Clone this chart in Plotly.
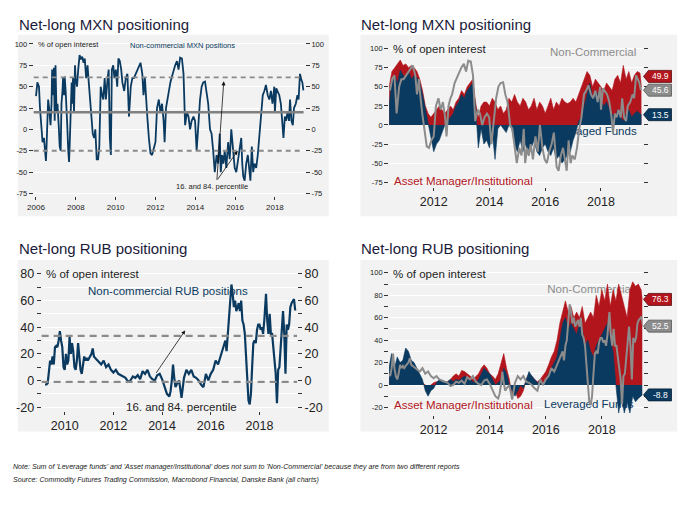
import plotly.graph_objects as go

W, H = 693, 512
NAVY = "#0b3a60"
RED = "#b3151d"
GRAY = "#8c8c8c"
PANEL = "#f2f2f2"
FONT = "Liberation Sans"
TXT = "#222222"

# ---------------- DATA ----------------
# Net-long MXN, non-commercial, % of open interest
mxn_nc_dates = [2006.00, 2006.07, 2006.12, 2006.15, 2006.20, 2006.28, 2006.33, 2006.40, 2006.45, 2006.50, 2006.53, 2006.58, 2006.61, 2006.66, 2006.73, 2006.78, 2006.81, 2006.86, 2006.90, 2006.94, 2006.98,
                2007.03, 2007.08, 2007.14, 2007.19, 2007.24, 2007.28, 2007.33, 2007.36, 2007.41, 2007.44, 2007.49, 2007.52, 2007.57, 2007.62, 2007.66, 2007.69, 2007.74, 2007.79, 2007.82, 2007.86, 2007.91, 2007.96, 2007.99,
                2008.06, 2008.12, 2008.19, 2008.25, 2008.32, 2008.39, 2008.45, 2008.52, 2008.59, 2008.65, 2008.72, 2008.78, 2008.85, 2008.92, 2008.98,
                2009.05, 2009.12, 2009.18, 2009.25, 2009.32, 2009.38, 2009.45, 2009.51, 2009.60, 2009.65, 2009.71, 2009.76, 2009.81, 2009.88, 2009.94,
                2010.01, 2010.08, 2010.14, 2010.21, 2010.28, 2010.34, 2010.43, 2010.51, 2010.59, 2010.67, 2010.76, 2010.84, 2010.92,
                2011.01, 2011.09, 2011.17, 2011.25, 2011.34, 2011.40, 2011.47, 2011.50, 2011.59, 2011.67, 2011.75, 2011.83, 2011.92,
                2012.00, 2012.08, 2012.17, 2012.25, 2012.33, 2012.41, 2012.46, 2012.53, 2012.60, 2012.66, 2012.75, 2012.83, 2012.91, 2012.99,
                2013.08, 2013.16, 2013.24, 2013.33, 2013.41, 2013.49, 2013.58, 2013.66, 2013.74, 2013.82, 2013.91, 2013.99,
                2014.07, 2014.16, 2014.24, 2014.32, 2014.40, 2014.49, 2014.57, 2014.65, 2014.74, 2014.82, 2014.90, 2014.98,
                2015.07, 2015.15, 2015.23, 2015.28, 2015.35, 2015.41, 2015.48, 2015.56, 2015.65, 2015.73, 2015.81, 2015.90, 2015.98,
                2016.06, 2016.14, 2016.23, 2016.31, 2016.36, 2016.41, 2016.48, 2016.56, 2016.64, 2016.72, 2016.77, 2016.84, 2016.91, 2016.97,
                2017.06, 2017.14, 2017.22, 2017.30, 2017.39, 2017.47, 2017.55, 2017.64, 2017.72, 2017.80, 2017.88, 2017.97,
                2018.00, 2018.07, 2018.13, 2018.22, 2018.30, 2018.38, 2018.43, 2018.50, 2018.56, 2018.63, 2018.71, 2018.76, 2018.83, 2018.90, 2018.96,
                2019.05, 2019.13, 2019.19, 2019.26, 2019.33, 2019.38, 2019.43]
mxn_nc = [39, 55, 52, 50, 25, -5, -15, -10, -30, -37, -20, 10, 35, 25, 5, 30, 70, 40, 72, 10, 75,
          20, 30, 5, -20, -25, 30, 45, 60, 40, 62, 45, 20, 5, -25, -38, -20, 15, 55, 30, 60, 20, 75, 60,
          50, 70, 87, 82, 85, 78, 83, 60, 75, 55, 30, 15, -5, -10, 0,
          -35, -35, -20, 50, 40, 35, 60, 35, 60, 70, -10, -30, 70, 75, 60,
          70, 50, 83, 80, 70, 55, 45, 60, 65, 15, 50, 60, 60,
          65, 70, 75, 78, 65, 40, 60, 45, 15, -10, -28, -30, -20,
          -15, 25, 35, 20, 30, 10, -15, 25, 35, 40, 55, 62, 70, 75,
          80, 70, 84, 83, 65, 5, 20, 15, 0, 10, 15, 10,
          -25, 10, 35, 50, 55, 56, 40, 30, 0, -5, -25, -50,
          -30, -40, -5, -50, -30, -40, -25, -45, -15, -35, 0, -30, -45,
          -50, -35, -25, -10, -40, -55, -60, -40, -30, -50, -60, -20, -50, -40,
          -45, -30, -5, 10, 40, 45, 52, 40, 35, 45, 30, 50,
          20, 48, 45, 40, 30, 10, -10, 15, 10, 20, 10, 35, 10, 5, 25,
          30, 40, 35, 65, 58, 55, 45.6]
mxn_mean, mxn_p16, mxn_p84 = 20, -25, 61

# TFF report dates (decimal years) for the right-hand charts
tff_dates = [round(2010.4 + 0.1 * i, 2) for i in range(91)] + [2019.45]
mxn_lev = [25, 60, 65, 55, 72, 65,
           62, 70, 60, 65, 62, 55, 40, 20, 0, -20,
           -35, -25, -20, -10, 0, 5, 10, 15, 25, 30,
           40, 35, 45, 50, 55, 25, -30, -5, -25, -20,
           -30, -10, -45, -5, 0, -5, -10, 0, -5, -25,
           -35, -20, -35, -25, -40, -30, -20, -35, -40, -30,
           -25, -35, -40, -30, -45, -40, -50, -45, -40, -35,
           -20, -10, 5, 10, 25, 40, 55, 35, 45, 40,
           30, 25, 30, 20, 15, 10, 20, 10, 5, 15,
           20, 10, 15, 18, 15, 13.5]
mxn_am = [50, 70, 75, 80, 85, 78,
          80, 75, 78, 75, 70, 60, 45, 25, 15, 10,
          15, 20, 25, 20, 15, 20, 25, 20, 30, 35,
          45, 40, 50, 55, 60, 30, 10, 25, 30, 30,
          25, 35, 30, 20, 25, 15, 20, 35, 30, 40,
          30, 25, 35, 30, 20, 25, 35, 20, 30, 25,
          15, 25, 35, 20, 30, 25, 35, 30, 28, 30,
          35, 30, 40, 50, 60, 70, 65, 50, 60, 55,
          50, 45, 55, 50, 45, 60, 65, 55, 78, 60,
          70, 55, 65, 70, 68, 49.9]

# Net-long RUB, non-commercial, % of open interest
rub_nc_dates = [2009.19, 2009.25, 2009.30, 2009.35, 2009.40, 2009.45, 2009.50, 2009.55, 2009.60, 2009.65, 2009.70, 2009.75, 2009.80, 2009.85, 2009.90, 2009.95,
                2010.00, 2010.05, 2010.10, 2010.15, 2010.20, 2010.25, 2010.30, 2010.35, 2010.40, 2010.45, 2010.50, 2010.55, 2010.60, 2010.65, 2010.70, 2010.75, 2010.80, 2010.85, 2010.90, 2010.95,
                2011.00, 2011.10, 2011.15, 2011.20, 2011.30, 2011.40, 2011.50, 2011.60, 2011.70, 2011.80, 2011.90,
                2012.00, 2012.10, 2012.20, 2012.30, 2012.40, 2012.50, 2012.60, 2012.70, 2012.80, 2012.90,
                2013.00, 2013.10, 2013.20, 2013.30, 2013.40, 2013.50, 2013.60, 2013.70, 2013.80, 2013.90,
                2014.00, 2014.10, 2014.20, 2014.30, 2014.35, 2014.40, 2014.45, 2014.50, 2014.55, 2014.60, 2014.70, 2014.80, 2014.85, 2014.90,
                2015.00, 2015.10, 2015.20, 2015.30, 2015.40, 2015.50, 2015.60, 2015.70, 2015.80, 2015.90,
                2016.00, 2016.10, 2016.20, 2016.30, 2016.40, 2016.50, 2016.60, 2016.65, 2016.70, 2016.75, 2016.80, 2016.85, 2016.90, 2016.95,
                2017.00, 2017.05, 2017.10, 2017.15, 2017.20, 2017.25, 2017.30, 2017.35, 2017.40, 2017.45, 2017.50, 2017.55, 2017.60, 2017.65, 2017.70, 2017.75, 2017.80, 2017.85, 2017.90, 2017.95,
                2018.00, 2018.05, 2018.10, 2018.15, 2018.20, 2018.27, 2018.32, 2018.37, 2018.42, 2018.47, 2018.52, 2018.57, 2018.62, 2018.67, 2018.72, 2018.77, 2018.82, 2018.87, 2018.92, 2018.97,
                2019.02, 2019.07, 2019.12, 2019.17, 2019.22, 2019.27, 2019.32, 2019.37, 2019.42, 2019.47]
rub_nc = [-3, -3, -2, 10, 15, 12, 18, 12, 25, 26, 25, 30, 37, 30, 25, 10,
          8, 20, 12, 15, 33, 20, 28, 22, 10, 8, 15, 28, 15, 8, 5, 10, 18, 15, 17, 15,
          17, 20, 24, 18, 16, 14, 12, 15, 10, 12, 8,
          6, 8, 5, 4, 3, 2, -1, 0, 3, 2,
          4, 1, 7, 5, 8, 3, 1, 0, 4, 5,
          1, -5, -10, -12, -8, 0, 12, 2, -5, -3, 0, -13, -5, 2,
          8, 5, 8, 3, 2, 0, -3, -5, 5, 0,
          5, 8, 15, 12, 18, 25, 30, 22, 35, 40, 55, 72, 65, 55,
          60, 52, 55, 58, 52, 60, 45, 42, 35, 20, 5, -15, -18, -10, 10, 28, 30, 28, 38, 42,
          42, 38, 40, 35, 45, 65, 45, 35, 50, 35, 35, 25, 15, 5, -17, 8, 10, 25, 40, 52,
          35, 5, 42, 38, 42, 55, 58, 60, 61, 52.5]
rub_p16, rub_p84 = -1, 33.5

rub_lev = [15, 28, 15, 25, 20, 22,
           33, 30, 22, 20, 15, 10, 5, -5, -10, -5,
           -3, 2, 5, 3, 2, 3, 5, 3, 5, 4,
           6, 8, 6, 5, 3, 2, 5, 10, 15, 12,
           10, 5, 0, 2, 5, 15, 10, 0, -5, -10,
           -5, 0, -3, 5, 12, 8, 5, 2, 3, 0,
           5, 10, 15, 20, 25, 40, 55, 60, 50, 55,
           50, 45, 55, 50, 35, 40, 30, 25, 35, 40,
           45, 50, 55, 40, 30, 0, -25, -10, -25, -15,
           -25, -10, -15, -12, -10, -8.8]
rub_am = [5, 8, 5, 8, 6, 5,
          8, 6, 5, 5, 4, 3, 2, 0, -2, 0,
          2, 3, 3, 2, 2, 3, 5, 8, 10, 8,
          13, 12, 10, 8, 5, 8, 10, 15, 18, 15,
          10, 8, 5, 10, 20, 28, 15, 5, -10, -5,
          -12, -10, -5, 5, 10, 8, 5, 3, 5, 8,
          12, 18, 25, 30, 40, 55, 65, 75, 65, 70,
          60, 65, 60, 70, 55, 60, 65, 60, 80, 70,
          85, 75, 90, 70, 85, 75, 90, 80, 70, 60,
          85, 92, 88, 90, 85, 76.3]

year_ticks = list(range(2006, 2020, 2))
mxn_yticks = [-75, -50, -25, 0, 25, 50, 75, 100]
rub_left_yticks = list(range(-20, 81, 10))
rub_right_yticks = list(range(-20, 101, 10))

# ---------------- helpers ----------------
def px(x):
    return x / W

def py(y):
    return 1 - y / H

def since(dates, vals, start):
    pairs = [(d, v) for d, v in zip(dates, vals) if d >= start]
    return [p[0] for p in pairs], [p[1] for p in pairs]

fig = go.Figure()

# ---- top-left ----
fig.add_trace(go.Scatter(x=mxn_nc_dates, y=mxn_nc, mode="lines",
                         line=dict(color=NAVY, width=1.8), xaxis="x", yaxis="y",
                         showlegend=False, hoverinfo="skip"))

# ---- top-right ----
fig.add_trace(go.Scatter(x=[2019.28], y=[-9.5], mode="text", text=["Leveraged Funds"],
                         textposition="middle left", textfont=dict(family=FONT, size=11.5, color=NAVY),
                         xaxis="x2", yaxis="y2", showlegend=False, hoverinfo="skip", cliponaxis=False))
fig.add_trace(go.Scatter(x=tff_dates, y=mxn_am, mode="lines", fill="tozeroy", fillcolor=RED,
                         line=dict(color=RED, width=0.6), xaxis="x2", yaxis="y2", showlegend=False, hoverinfo="skip"))
fig.add_trace(go.Scatter(x=tff_dates, y=mxn_lev, mode="lines", fill="tozeroy", fillcolor=NAVY,
                         line=dict(color=NAVY, width=0.6), xaxis="x2", yaxis="y2", showlegend=False, hoverinfo="skip"))
d2, v2 = since(mxn_nc_dates, mxn_nc, 2010.4)
fig.add_trace(go.Scatter(x=d2, y=v2, mode="lines", line=dict(color=GRAY, width=2),
                         xaxis="x2", yaxis="y2", showlegend=False, hoverinfo="skip"))

# ---- bottom-left ----
fig.add_trace(go.Scatter(x=rub_nc_dates, y=rub_nc, mode="lines",
                         line=dict(color=NAVY, width=2.2), xaxis="x3", yaxis="y3",
                         showlegend=False, hoverinfo="skip"))

# ---- bottom-right ----
fig.add_trace(go.Scatter(x=[2019.13, 2019.13], y=[85, -17.7], mode="text",
                         text=["Non-Commercial", "Leveraged Funds"], textposition="middle left",
                         textfont=dict(family=FONT, size=11.5, color=[GRAY, NAVY]),
                         xaxis="x4", yaxis="y4", showlegend=False, hoverinfo="skip", cliponaxis=False))
fig.add_trace(go.Scatter(x=tff_dates, y=rub_am, mode="lines", fill="tozeroy", fillcolor=RED,
                         line=dict(color=RED, width=0.6), xaxis="x4", yaxis="y4", showlegend=False, hoverinfo="skip"))
fig.add_trace(go.Scatter(x=tff_dates, y=rub_lev, mode="lines", fill="tozeroy", fillcolor=NAVY,
                         line=dict(color=NAVY, width=0.6), xaxis="x4", yaxis="y4", showlegend=False, hoverinfo="skip"))
d4, v4 = since(rub_nc_dates, rub_nc, 2010.4)
fig.add_trace(go.Scatter(x=d4, y=v4, mode="lines", line=dict(color=GRAY, width=2),
                         xaxis="x4", yaxis="y4", showlegend=False, hoverinfo="skip"))

# ---------------- axes ----------------
def xax(dom, rng, size, anchor):
    return dict(domain=dom, range=rng, anchor=anchor, tickvals=year_ticks, ticktext=[str(t) for t in year_ticks],
                ticks="outside", ticklen=3, tickcolor="#333", tickwidth=1,
                tickfont=dict(family=FONT, size=size, color=TXT),
                showgrid=False, zeroline=False, showline=False, fixedrange=True)

def yax(dom, rng, vals, texts, size, anchor, grid=True):
    return dict(domain=dom, range=rng, anchor=anchor, tickvals=vals, ticktext=texts,
                ticks="outside", ticklen=4, tickcolor="#333", tickwidth=1,
                tickfont=dict(family=FONT, size=size, color=TXT),
                showgrid=grid, gridcolor="white", gridwidth=1, zeroline=False, showline=False, fixedrange=True)

def lab(vals, step):
    return [str(v) if v % step == 0 else "" for v in vals]

tl_x = [px(27), px(301)]
tl_y = [py(198), py(40)]
tr_x = [px(386), px(642)]
tr_y = [py(188), py(45)]
bl_x = [px(35), px(293)]
bl_y = [py(414), py(268)]
br_x = [px(386), px(642)]
br_y = [py(418), py(268)]

rng1 = [-78.5, 105]
rng2 = [-80.6, 105.2]
rng3 = [-22.7, 85.95]
rng4 = [-26.5, 106.2]

mxn_lab = [str(v) for v in mxn_yticks]
layout = dict(
    width=W, height=H, margin=dict(l=0, r=0, t=0, b=0),
    paper_bgcolor="white", plot_bgcolor="rgba(0,0,0,0)",
    font=dict(family=FONT, color=TXT),
    xaxis=xax(tl_x, [2005.886, 2019.51], 8, "y"),
    yaxis=yax(tl_y, rng1, mxn_yticks, mxn_lab, 7.5, "x"),
    xaxis2=xax(tr_x, [2010.40, 2019.49], 12.5, "y2"),
    yaxis2=yax(tr_y, rng2, mxn_yticks, mxn_lab, 7.5, "x2"),
    xaxis3=xax(bl_x, [2009.052, 2019.545], 12.5, "y3"),
    yaxis3=yax(bl_y, rng3, rub_left_yticks, lab(rub_left_yticks, 20), 12.5, "x3"),
    xaxis4=xax(br_x, [2010.41, 2019.45], 12.5, "y4"),
    yaxis4=yax(br_y, rng4, rub_right_yticks, lab(rub_right_yticks, 20), 7.5, "x4"),
)
layout["yaxis5"] = dict(yax(tl_y, rng1, mxn_yticks, mxn_lab, 7.5, "x", grid=False),
                        overlaying="y", side="right")
layout["yaxis6"] = dict(yax(tr_y, rng2, mxn_yticks, mxn_lab, 7.5, "x2", grid=False),
                        overlaying="y2", side="right", showticklabels=False)
layout["yaxis7"] = dict(yax(bl_y, rng3, rub_left_yticks, lab(rub_left_yticks, 20), 12.5, "x3", grid=False),
                        overlaying="y3", side="right")
layout["yaxis8"] = dict(yax(br_y, rng4, rub_right_yticks, lab(rub_right_yticks, 20), 7.5, "x4", grid=False),
                        overlaying="y4", side="right", showticklabels=False)
# placeholder traces so the right-hand axes are drawn
for ya, xa in (("y5", "x"), ("y6", "x2"), ("y7", "x3"), ("y8", "x4")):
    fig.add_trace(go.Scatter(x=[None], y=[None], xaxis=xa, yaxis=ya, showlegend=False, hoverinfo="skip"))
fig.update_layout(**layout)

# ---------------- shapes ----------------
shapes = []
for x0, y0, x1, y1 in ((11, 35, 325, 218), (357, 35, 677, 218), (11, 262, 325, 435), (357, 262, 677, 435)):
    shapes.append(dict(type="rect", xref="paper", yref="paper", x0=px(x0), x1=px(x1), y0=py(y1), y1=py(y0),
                       fillcolor=PANEL, line=dict(width=0), layer="below"))
# reference lines
shapes.append(dict(type="line", xref="x domain", yref="y", x0=0, x1=0.995, y0=mxn_mean, y1=mxn_mean,
                   line=dict(color="#808080", width=2.5)))
for v in (mxn_p16, mxn_p84):
    shapes.append(dict(type="line", xref="x domain", yref="y", x0=0, x1=0.995, y0=v, y1=v,
                       line=dict(color="#8a8a8a", width=1.8, dash="5px,4px")))
for v in (rub_p16, rub_p84):
    shapes.append(dict(type="line", xref="x3 domain", yref="y3", x0=0, x1=1, y0=v, y1=v,
                       line=dict(color="#8a8a8a", width=2.2, dash="7px,5px")))

# value tags at the right end of the right-hand charts
tags = [
    ("y2", mxn_am[-1], RED, "#5a0a0e", 10.5),
    ("y2", v2[-1], GRAY, "#555555", 0),
    ("y2", mxn_lev[-1], NAVY, "#061e33", 0),
    ("y4", rub_am[-1], RED, "#5a0a0e", 0),
    ("y4", v4[-1], GRAY, "#555555", 0),
    ("y4", rub_lev[-1], NAVY, "#061e33", 0),
]
annotations = []
for yref, val, col, edge, off in tags:
    shapes.append(dict(type="path", xref="paper", yref=yref, xsizemode="pixel", ysizemode="pixel",
                       xanchor=px(643), yanchor=val,
                       path=f"M 0 {off} L 5 {off + 6} L 28 {off + 6} L 28 {off - 6} L 5 {off - 6} Z",
                       fillcolor=col, line=dict(color=edge, width=0.8)))
    annotations.append(dict(xref="paper", yref=yref, x=px(660), y=val, yshift=off, text=f"{val:.1f}",
                            showarrow=False, xanchor="center", yanchor="middle",
                            font=dict(family=FONT, size=8.5, color="white")))

fig.update_layout(shapes=shapes)

def note(x, y, text, size, color=TXT, xanchor="left"):
    annotations.append(dict(xref="paper", yref="paper", x=px(x), y=py(y), text=text, showarrow=False,
                            xanchor=xanchor, yanchor="middle", font=dict(family=FONT, size=size, color=color)))

TITLE = "#1b1b3a"
note(10, 25, "Net-long MXN positioning", 15, TITLE)
note(356, 25, "Net-long MXN positioning", 15, TITLE)
note(10, 250, "Net-long RUB positioning", 15, TITLE)
note(356, 250, "Net-long RUB positioning", 15, TITLE)

note(29, 44.5, "% of open interest", 7.5)
note(177, 46, "Non-commercial MXN positions", 7.5, NAVY, "center")
note(207, 188, "16. and 84. percentile", 7.5, TXT, "center")

note(388, 49.5, "% of open interest", 11.5)
note(637, 52, "Non-Commercial", 11.5, GRAY, "right")
note(389, 182, "Asset Manager/Institutional", 11.5, RED)

note(37, 276, "% of open interest", 11.5)
note(80, 293, "Non-commercial RUB positions", 11.5, NAVY)
note(176, 410, "16. and 84. percentile", 11.5, TXT, "center")

note(388, 276, "% of open interest", 11.5)
note(389, 408, "Asset Manager/Institutional", 11.5, RED)

note(4, 470.5, "<i>Note: Sum of 'Leverage funds' and 'Asset manager/Institutional' does not sum to 'Non-Commercial' because they are from two different reports</i>", 7.1)
note(4, 484, "<i>Source: Commodity Futures Trading Commission, Macrobond Financial, Danske Bank (all charts)</i>", 7.1)

# arrows
for hx, hy, tx, ty in ((219, 82, 212, 182), (233, 152, 212, 182), (180, 333, 150, 377)):
    annotations.append(dict(xref="paper", yref="paper", x=px(hx), y=py(hy), ax=tx - hx, ay=ty - hy,
                            text="", showarrow=True, arrowhead=2, arrowsize=1, arrowwidth=0.8,
                            arrowcolor="#111111"))

fig.update_layout(annotations=annotations)
fig.write_html("out.html")
